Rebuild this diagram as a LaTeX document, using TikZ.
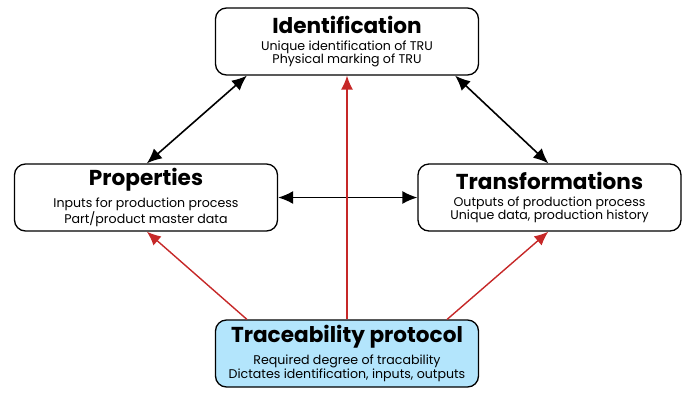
\documentclass[tikz,border=0pt]{standalone}
\usepackage{fontspec}
\setmainfont{Poppins}
\usepackage{tikz}
\usetikzlibrary{positioning, arrows.meta}
\definecolor{traceblue}{RGB}{179,229,252}
\definecolor{tracered}{RGB}{198,40,40}
\newcommand{\ttlfont}{\fontsize{21.6}{24}\selectfont\bfseries}
\newcommand{\subfont}{\fontsize{12.6}{16.5}\selectfont}

\begin{document}
\begin{tikzpicture}[x=1pt, y=-1pt,
      box/.style={draw, rounded corners=11pt, align=center, line width=1.3pt,
                  minimum width=263pt, minimum height=67pt, inner sep=0pt},
      arr/.style={{Latex[length=15pt,width=13pt]}-{Latex[length=15pt,width=13pt]}, line width=1.6pt},
      red/.style={-{Latex[length=14pt,width=12pt]}, line width=1.4pt, tracered}]
    \useasboundingbox (0,0) rectangle (686,392);
    \node[box] (ident) at (347,41.5) {{\ttlfont Identification}\\[5pt]
      \subfont Unique identification of TRU\\ \subfont Physical marking of TRU};
    \node[box] (prop) at (146,197.5) {{\ttlfont Properties}\\[5pt]
      \subfont Inputs for production process\\ \subfont Part/product master data};
    \node[box] (trans) at (549.5,197.5) {{\ttlfont Transformations}\\[5pt]
      \subfont Outputs of production process\\ \subfont Unique data, production history};
    \node[box, fill=traceblue] (trace) at (347,353.5) {{\ttlfont Traceability protocol}\\[5pt]
      \subfont Required degree of tracability\\ \subfont Dictates identification, inputs, outputs};
    % black links
    \draw[arr] ([xshift=133pt]prop.north west) -- ([xshift=32pt]ident.south west);
    \draw[arr] ([xshift=-24pt]ident.south east) -- ([xshift=131pt]trans.north west);
    \draw[arr] (prop.east) -- (trans.west);
    % red links from protocol
    \draw[red] ([xshift=32pt]trace.north west) -- ([xshift=133pt]prop.south west);
    \draw[red] (trace.north) -- (ident.south);
    \draw[red] ([xshift=-32pt]trace.north east) -- ([xshift=131pt]trans.south west);
  \end{tikzpicture}
\end{document}
